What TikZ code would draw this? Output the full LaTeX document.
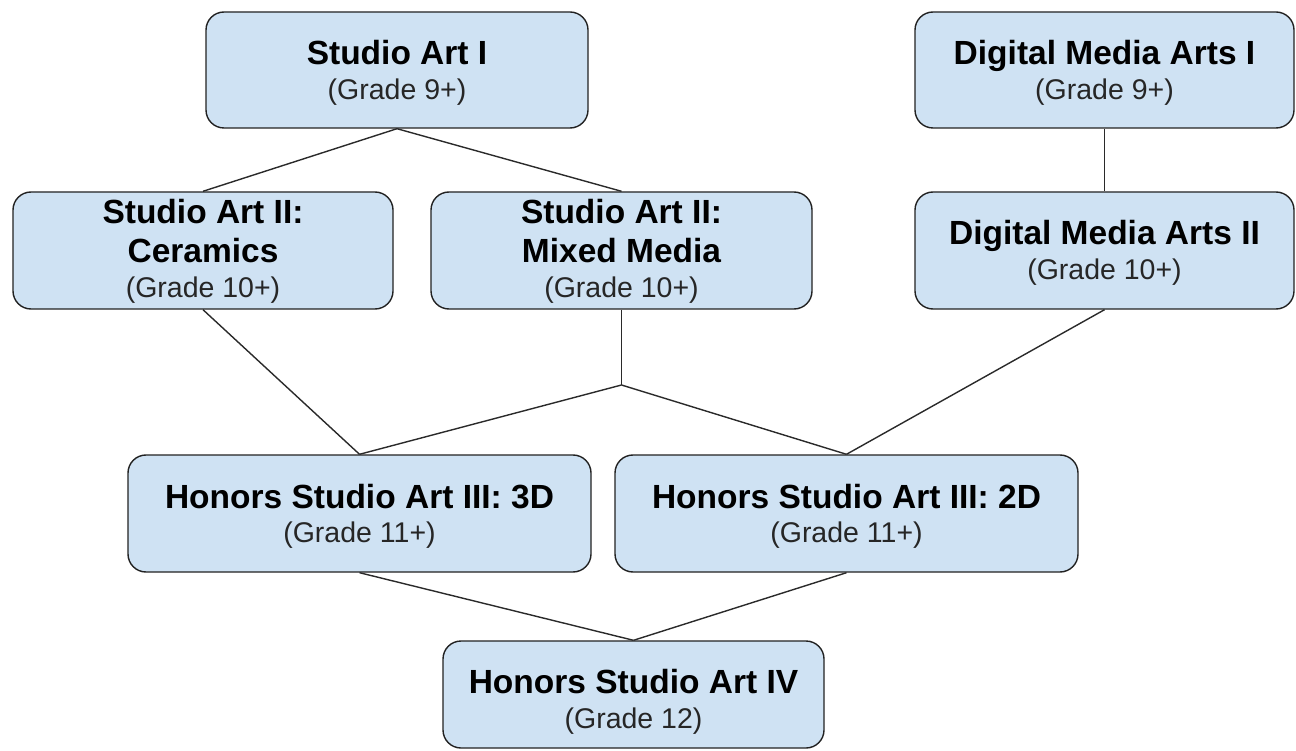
\documentclass[tikz,border=0pt]{standalone}
\usepackage{fontspec}
\setmainfont{Liberation Sans}
\definecolor{boxblue}{HTML}{CFE2F3}
\definecolor{edge}{HTML}{222222}
\definecolor{wire}{HTML}{2A2A2A}
\begin{document}
\begin{tikzpicture}[x=1pt,y=-1pt,
  box/.style={draw=edge, line width=1.4pt, fill=boxblue, rounded corners=18pt, inner sep=0pt},
  ttl/.style={anchor=base, inner sep=0pt, font=\fontsize{33.5}{36}\selectfont\bfseries},
  grd/.style={anchor=base, inner sep=0pt, font=\fontsize{28.5}{32}\selectfont, text=black!85},
  link/.style={draw=wire, line width=1.4pt}]
\useasboundingbox (0,0) rectangle (1296,751);

% boxes
\node[box, minimum width=382pt, minimum height=116pt] (s1) at (397,70) {};
\node[box, minimum width=379pt, minimum height=116pt] (d1) at (1104.5,70) {};
\node[box, minimum width=380pt, minimum height=117pt] (s2c) at (203,250.5) {};
\node[box, minimum width=381pt, minimum height=117pt] (s2m) at (621.5,250.5) {};
\node[box, minimum width=379pt, minimum height=117pt] (d2) at (1104.5,250.5) {};
\node[box, minimum width=463pt, minimum height=117pt] (h3d) at (359.5,513.5) {};
\node[box, minimum width=463pt, minimum height=117pt] (h2d) at (846.5,513.5) {};
\node[box, minimum width=381pt, minimum height=107pt] (h4) at (633.5,694.5) {};

% texts
\node[ttl] (s1t) at (397,65) {Studio Art I};
\node[grd] (s1g) at (397,100) {(Grade 9+)};

\node[ttl] (d1t) at (1104.5,65) {Digital Media Arts I};
\node[grd] (d1g) at (1104.5,100) {(Grade 9+)};

\node[ttl] (s2ct) at (203,224) {Studio Art II:};
\node[ttl] (s2ct2) at (203,263) {Ceramics};
\node[grd] (s2cg) at (203,298) {(Grade 10+)};

\node[ttl] (s2mt) at (621.5,224) {Studio Art II:};
\node[ttl] (s2mt2) at (621.5,263) {Mixed Media};
\node[grd] (s2mg) at (621.5,298) {(Grade 10+)};

\node[ttl] (d2t) at (1104.5,245) {Digital Media Arts II};
\node[grd] (d2g) at (1104.5,280) {(Grade 10+)};

\node[ttl] (h3dt) at (359.5,508) {Honors Studio Art III: 3D};
\node[grd] (h3dg) at (359.5,542) {(Grade 11+)};

\node[ttl] (h2dt) at (846.5,508) {Honors Studio Art III: 2D};
\node[grd] (h2dg) at (846.5,542) {(Grade 11+)};

\node[ttl] (h4t) at (633.5,693) {Honors Studio Art IV};
\node[grd] (h4g) at (633.5,728) {(Grade 12)};

% connectors
\coordinate (j) at (621.5,385);
\draw[link] (s1.south) -- (s2c.north);
\draw[link] (s1.south) -- (s2m.north);
\draw[link] (d1.south) -- (d2.north);
\draw[link] (s2c.south) -- (h3d.north);
\draw[link] (s2m.south) -- (j);
\draw[link] (j) -- (h3d.north);
\draw[link] (j) -- (h2d.north);
\draw[link] (d2.south) -- (h2d.north);
\draw[link] (h3d.south) -- (h4.north);
\draw[link] (h2d.south) -- (h4.north);
\end{tikzpicture}
\end{document}
